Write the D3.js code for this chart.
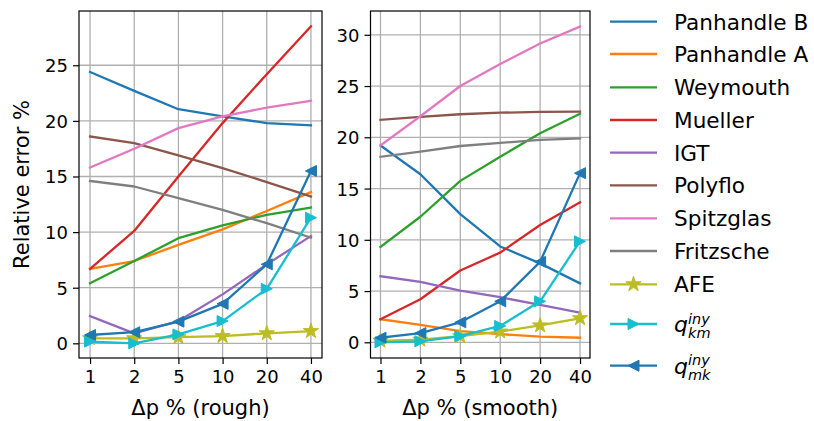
<!DOCTYPE html>
<html>
<head>
<meta charset="utf-8">
<script src="https://cdn.jsdelivr.net/npm/d3@7"></script>
<style>
  html, body { margin: 0; padding: 0; background: #fff; }
  svg { display: block; font-family: "DejaVu Sans", sans-serif; }
</style>
</head>
<body>
<svg id="chart" width="814" height="421"></svg>
<script>
// Pressure-drop levels (categorical x axis)
const categories = ["1", "2", "5", "10", "20", "40"];

// Series names, colours and marker kinds (legend order = drawing order)
const seriesNames = ["Panhandle B", "Panhandle A", "Weymouth", "Mueller", "IGT", "Polyflo",
  "Spitzglas", "Fritzsche", "AFE", "qkm", "qmk"];
const seriesColors = ["#1f77b4", "#ff7f0e", "#2ca02c", "#d62728", "#9467bd", "#8c564b",
  "#e377c2", "#7f7f7f", "#bcbd22", "#17becf", "#1f77b4"];
const seriesMarkers = [null, null, null, null, null, null, null, null, "star", "triRight", "triLeft"];

// Relative error % — rough pipes
const roughPanhandleB = [24.4, 22.7, 21.05, 20.4, 19.8, 19.6];
const roughPanhandleA = [6.7, 7.4, 8.85, 10.25, 11.9, 13.6];
const roughWeymouth   = [5.4, 7.4, 9.45, 10.6, 11.55, 12.2];
const roughMueller    = [6.7, 10.1, 15.0, 19.8, 24.2, 28.5];
const roughIGT        = [2.45, 0.9, 2.0, 4.4, 7.1, 9.65];
const roughPolyflo    = [18.6, 18.0, 16.9, 15.75, 14.5, 13.2];
const roughSpitzglas  = [15.8, 17.5, 19.35, 20.4, 21.2, 21.8];
const roughFritzsche  = [14.6, 14.1, 13.05, 12.0, 10.8, 9.5];
const roughAFE        = [0.45, 0.45, 0.55, 0.65, 0.9, 1.1];
const roughQkm        = [0.15, 0.0, 0.8, 2.0, 4.9, 11.3];
const roughQmk        = [0.75, 1.0, 1.95, 3.55, 7.1, 15.5];

// Relative error % — smooth pipes
const smoothPanhandleB = [19.2, 16.4, 12.5, 9.35, 7.7, 5.75];
const smoothPanhandleA = [2.25, 1.7, 1.1, 0.8, 0.55, 0.45];
const smoothWeymouth   = [9.3, 12.25, 15.75, 18.1, 20.4, 22.3];
const smoothMueller    = [2.25, 4.2, 7.0, 8.75, 11.45, 13.65];
const smoothIGT        = [6.45, 5.9, 5.05, 4.4, 3.65, 2.9];
const smoothPolyflo    = [21.7, 22.0, 22.25, 22.4, 22.47, 22.5];
const smoothSpitzglas  = [19.2, 22.05, 25.0, 27.15, 29.15, 30.8];
const smoothFritzsche  = [18.1, 18.6, 19.15, 19.45, 19.75, 19.9];
const smoothAFE        = [0.15, 0.25, 0.6, 1.05, 1.65, 2.35];
const smoothQkm        = [0.0, 0.1, 0.6, 1.6, 4.0, 9.85];
const smoothQmk        = [0.45, 0.9, 1.95, 4.0, 7.85, 16.5];

const roughSeries = [roughPanhandleB, roughPanhandleA, roughWeymouth, roughMueller, roughIGT,
  roughPolyflo, roughSpitzglas, roughFritzsche, roughAFE, roughQkm, roughQmk];
const smoothSeries = [smoothPanhandleB, smoothPanhandleA, smoothWeymouth, smoothMueller, smoothIGT,
  smoothPolyflo, smoothSpitzglas, smoothFritzsche, smoothAFE, smoothQkm, smoothQmk];

const roughTicks = [0, 5, 10, 15, 20, 25];
const smoothTicks = [0, 5, 10, 15, 20, 25, 30];

const svg = d3.select("#chart");
const gridColor = "#b0b0b0";
const tickFont = 18;
const labelFont = 21;

// marker path generators
function markerPath(kind, size) {
  if (kind === "star") return d3.symbol(d3.symbolStar, size * size * 0.5)();
  const r = size / 2;
  if (kind === "triRight") return `M${r},0L${-r},${-r}L${-r},${r}Z`;
  if (kind === "triLeft") return `M${-r},0L${r},${-r}L${r},${r}Z`;
  return null;
}

function drawPanel(cfg) {
  const { x0, x1, y0, y1, domain, ticks, series, xlabel, ylabel } = cfg;
  const x = d3.scalePoint().domain(categories).range([x0, x1]).padding(0.25);
  const y = d3.scaleLinear().domain(domain).range([y1, y0]);
  const g = svg.append("g");

  // grid
  g.append("g").selectAll("line").data(categories).join("line")
    .attr("x1", d => x(d)).attr("x2", d => x(d)).attr("y1", y0).attr("y2", y1)
    .attr("stroke", gridColor).attr("stroke-width", 1.3);
  g.append("g").selectAll("line").data(ticks).join("line")
    .attr("x1", x0).attr("x2", x1).attr("y1", d => y(d)).attr("y2", d => y(d))
    .attr("stroke", gridColor).attr("stroke-width", 1.3);

  // series
  const clipId = "clip" + Math.round(x0);
  g.append("clipPath").attr("id", clipId).append("rect")
    .attr("x", x0).attr("y", y0).attr("width", x1 - x0).attr("height", y1 - y0);
  const plot = g.append("g").attr("clip-path", `url(#${clipId})`);
  const line = d3.line().x((d, i) => x(categories[i])).y(d => y(d));
  series.forEach((vals, si) => {
    plot.append("path").datum(vals).attr("d", line)
      .attr("fill", "none").attr("stroke", seriesColors[si])
      .attr("stroke-width", 2.3).attr("stroke-linejoin", "round").attr("stroke-linecap", "square");
    const mk = seriesMarkers[si];
    if (mk) {
      const size = mk === "star" ? 12 : 11;
      plot.append("g").selectAll("path").data(vals).join("path")
        .attr("d", markerPath(mk, size))
        .attr("transform", (d, i) => `translate(${x(categories[i])},${y(d)})`)
        .attr("fill", seriesColors[si]).attr("stroke", seriesColors[si]).attr("stroke-width", 1);
    }
  });

  // axes
  const xAxis = d3.axisBottom(x).tickSize(6).tickPadding(6);
  const ax = g.append("g").attr("transform", `translate(0,${y1})`).call(xAxis);
  const yAxis = d3.axisLeft(y).tickValues(ticks).tickSize(6).tickPadding(5).tickFormat(d3.format("d"));
  const ay = g.append("g").attr("transform", `translate(${x0},0)`).call(yAxis);
  [ax, ay].forEach(a => {
    a.select(".domain").remove();
    a.selectAll(".tick line").attr("stroke", "#000").attr("stroke-width", 1.2);
    a.selectAll(".tick text").attr("fill", "#000").attr("font-size", tickFont)
      .attr("font-family", "DejaVu Sans, sans-serif");
  });
  ay.selectAll(".tick text").attr("dy", "0.36em");

  // frame
  g.append("rect").attr("x", x0).attr("y", y0).attr("width", x1 - x0).attr("height", y1 - y0)
    .attr("fill", "none").attr("stroke", "#000").attr("stroke-width", 1.2);

  g.append("text").attr("x", (x0 + x1) / 2).attr("y", 415).attr("text-anchor", "middle")
    .attr("font-size", labelFont).text(xlabel);
  if (ylabel) {
    g.append("text").attr("transform", `translate(22,${(y0 + y1) / 2}) rotate(-90)`)
      .attr("text-anchor", "middle").attr("dominant-baseline", "central")
      .attr("font-size", labelFont).text(ylabel);
  }
}

drawPanel({ x0: 79, x1: 322, y0: 11, y1: 358, domain: [-1.32, 29.88], ticks: roughTicks,
  series: roughSeries, xlabel: "Δp % (rough)", ylabel: "Relative error %" });
drawPanel({ x0: 370.5, x1: 590, y0: 11, y1: 358, domain: [-1.53, 32.32], ticks: smoothTicks,
  series: smoothSeries, xlabel: "Δp % (smooth)", ylabel: null });

// legend
const legendRows = [21.7, 54, 87.3, 120, 152.7, 185.3, 218.3, 251, 284.3, 324, 365.7];
const leg = svg.append("g");
seriesNames.forEach((name, i) => {
  const cy = legendRows[i];
  const row = leg.append("g");
  row.append("line").attr("x1", 610).attr("x2", 657).attr("y1", cy).attr("y2", cy)
    .attr("stroke", seriesColors[i]).attr("stroke-width", 2.3);
  const mk = seriesMarkers[i];
  if (mk) {
    row.append("path").attr("d", markerPath(mk, mk === "star" ? 12 : 11))
      .attr("transform", `translate(633.5,${cy})`)
      .attr("fill", seriesColors[i]).attr("stroke", seriesColors[i]).attr("stroke-width", 1);
  }
  if (name === "qkm" || name === "qmk") {
    // q with superscript "iny" and subscript index, as one text element
    const sub = name === "qkm" ? "km" : "mk";
    const t = row.append("text").attr("x", 674).attr("y", cy + 8)
      .attr("font-style", "italic");
    t.append("tspan").attr("font-size", 22).text("q");
    t.append("tspan").attr("x", 688).attr("dy", -8.5).attr("font-size", 14.5).text("iny");
    t.append("tspan").attr("x", 688).attr("dy", 14.5).attr("font-size", 14.5).text(sub);
  } else {
    row.append("text").attr("x", 674).attr("y", cy + 8).attr("font-size", 21.6).text(name);
  }
});
</script>
</body>
</html>
